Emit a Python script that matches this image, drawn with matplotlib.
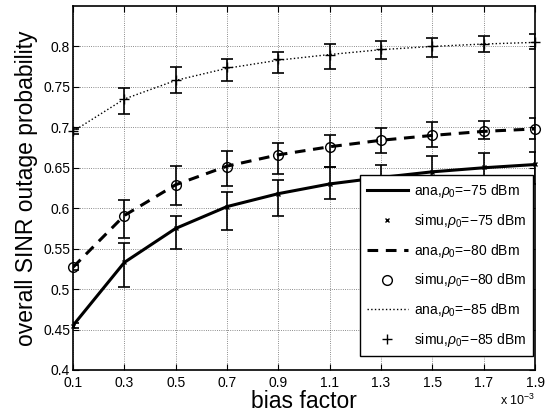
import matplotlib
matplotlib.use("Agg")
import matplotlib.pyplot as plt
import numpy as np

# bias factor (x 10^-3)
bias = [0.1, 0.3, 0.5, 0.7, 0.9, 1.1, 1.3, 1.5, 1.7, 1.9]

ana_75 = [0.455, 0.533, 0.575, 0.602, 0.618, 0.630, 0.638, 0.645, 0.650, 0.654]
ana_80 = [0.527, 0.591, 0.629, 0.652, 0.666, 0.676, 0.684, 0.690, 0.695, 0.698]
ana_85 = [0.695, 0.735, 0.758, 0.773, 0.783, 0.790, 0.796, 0.800, 0.803, 0.805]

sim_75 = [0.455, 0.533, 0.575, 0.601, 0.618, 0.630, 0.637, 0.645, 0.651, 0.655]
sim_80 = [0.527, 0.590, 0.629, 0.651, 0.666, 0.676, 0.684, 0.691, 0.695, 0.698]
sim_85 = [0.695, 0.735, 0.759, 0.774, 0.784, 0.790, 0.797, 0.800, 0.803, 0.805]

# error bar extents (lower, upper)
lo_75 = [0.452, 0.502, 0.550, 0.573, 0.590, 0.611, 0.623, 0.610, 0.635, 0.630]
hi_75 = [0.458, 0.557, 0.590, 0.620, 0.635, 0.651, 0.653, 0.665, 0.668, 0.670]
lo_80 = [0.524, 0.563, 0.604, 0.627, 0.642, 0.651, 0.668, 0.676, 0.685, 0.685]
hi_80 = [0.530, 0.610, 0.652, 0.671, 0.681, 0.690, 0.699, 0.706, 0.708, 0.712]
lo_85 = [0.692, 0.716, 0.742, 0.757, 0.767, 0.772, 0.784, 0.787, 0.793, 0.797]
hi_85 = [0.698, 0.749, 0.775, 0.784, 0.793, 0.803, 0.807, 0.811, 0.813, 0.815]

plt.rcParams['font.family'] = ['Liberation Sans', 'DejaVu Sans']
plt.rcParams['mathtext.fontset'] = 'custom'
plt.rcParams['mathtext.rm'] = 'Liberation Sans'
plt.rcParams['mathtext.it'] = 'Liberation Sans:italic'

fig = plt.figure(figsize=(5.51, 4.16), dpi=100)
ax = fig.add_axes([0.1325, 0.1106, 0.8385, 0.875])

def bars(sim, lo, hi, marker, ms):
    sim = np.array(sim)
    yerr = [sim - np.array(lo), np.array(hi) - sim]
    ax.errorbar(bias, sim, yerr=yerr, fmt='none', ecolor='k', elinewidth=1.2,
                capsize=4, capthick=1.2)
    h, = ax.plot(bias, sim, linestyle='none', marker=marker, ms=ms, mfc='none',
                 mec='k', mew=1.0, clip_on=False)
    return h

l1, = ax.plot(bias, ana_75, 'k-', lw=2.2)
s1 = bars(sim_75, lo_75, hi_75, 'x', 3.5)
l2, = ax.plot(bias, ana_80, 'k--', lw=2.2, dashes=(3.5, 2.5))
s2 = bars(sim_80, lo_80, hi_80, 'o', 7)
l3, = ax.plot(bias, ana_85, 'k:', lw=1.0)
s3 = bars(sim_85, lo_85, hi_85, '+', 7)

labels = [r'ana,$\rho_0$=−75 dBm', r'simu,$\rho_0$=−75 dBm',
          r'ana,$\rho_0$=−80 dBm', r'simu,$\rho_0$=−80 dBm',
          r'ana,$\rho_0$=−85 dBm', r'simu,$\rho_0$=−85 dBm']
leg = ax.legend([l1, s1, l2, s2, l3, s3], labels, loc='lower right',
                bbox_to_anchor=(533 / 551, 1 - 356 / 416),
                bbox_transform=fig.transFigure,
                fontsize=10, handlelength=2.95, labelspacing=0.85,
                fancybox=False, edgecolor='k', framealpha=1,
                borderaxespad=0, handletextpad=0.45, borderpad=0.5)
leg.get_frame().set_linewidth(1.0)

ax.set_xlim(0.1, 1.9)
ax.set_ylim(0.4, 0.85)
ax.set_xticks(bias)
ax.set_xticklabels(['%g' % v for v in bias])
yt = [0.4, 0.45, 0.5, 0.55, 0.6, 0.65, 0.7, 0.75, 0.8]
ax.set_yticks(yt)
ax.set_yticklabels(['%g' % v for v in yt])
ax.tick_params(direction='in', top=True, right=True, labelsize=10, length=4)
ax.tick_params(axis='x', pad=4)
ax.tick_params(axis='y', pad=2)
ax.grid(True, linestyle=':', color='k', lw=0.6, alpha=0.6)
for s in ax.spines.values():
    s.set_linewidth(1.2)

ax.set_xlabel('bias factor', fontsize=16.5, labelpad=0)
ax.set_ylabel('overall SINR outage probability', fontsize=16.5, labelpad=4)
fig.text(0.907, 0.027, r'x 10$^{-3}$', fontsize=9)

fig.savefig('out.png', dpi=100)
